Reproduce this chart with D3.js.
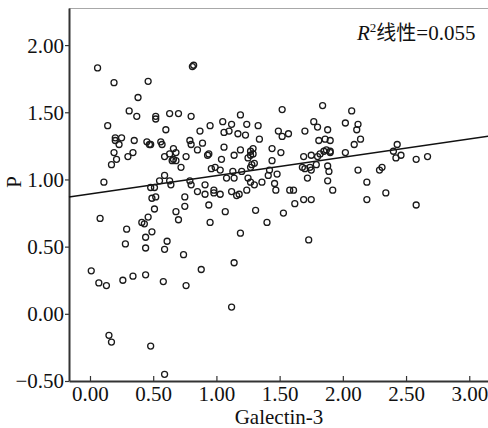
<!DOCTYPE html>
<html>
<head>
<meta charset="utf-8">
<script src="https://cdn.jsdelivr.net/npm/d3@7"></script>
<style>
  body { margin: 0; background: #fff; }
  svg { display: block; }
</style>
</head>
<body>
<div id="chart"></div>
<script>
// Galectin-3 values (x) and P values (y)
var galectin = [0.06,0.81,0.82,0.19,0.46,0.38,0.31,0.37,0.52,0.52,0.63,0.70,0.80,0.14,0.60,0.87,0.20,0.20,0.25,0.23,
    0.35,0.45,0.47,0.48,0.56,0.57,0.79,0.80,0.19,0.34,0.30,0.21,0.17,0.66,0.59,0.68,0.63,0.66,0.68,0.65,
    0.76,0.72,0.85,0.11,0.59,0.55,0.63,0.64,0.48,0.51,0.79,0.80,0.85,0.49,0.52,0.75,0.51,0.68,0.75,0.08,
    0.29,0.41,0.43,0.46,0.70,0.28,0.44,0.49,0.44,0.61,0.59,0.74,0.01,0.07,0.13,0.26,0.34,0.44,0.58,0.76,
    0.15,0.17,0.48,0.59,1.52,1.19,0.95,1.05,1.12,1.24,1.33,1.06,1.10,1.17,1.23,1.49,1.52,1.57,1.70,1.77,
    1.34,0.89,1.06,1.19,1.27,1.29,1.44,1.51,0.93,0.94,1.04,1.14,1.25,1.27,1.29,1.69,1.75,1.44,1.28,1.30,
    0.96,0.99,1.03,1.27,1.42,1.41,1.48,1.68,1.70,1.74,1.75,1.72,1.08,1.13,1.14,1.25,1.27,1.30,1.36,1.46,
    1.47,0.91,0.91,0.98,0.98,1.03,1.12,1.16,1.18,1.24,1.58,1.61,1.62,1.69,1.75,0.94,1.07,1.31,1.53,1.20,
    1.84,2.07,1.80,1.88,2.02,2.12,2.11,2.14,2.09,1.81,1.86,1.90,1.80,1.82,1.85,1.87,1.90,1.90,2.02,2.40,
    2.43,2.42,2.46,2.58,2.67,1.79,1.88,1.89,1.88,1.92,2.12,2.19,2.29,2.31,2.34,2.19,2.58,0.88,0.95,1.40,
    1.19,1.73,1.14,1.12];
var pValues = [1.83,1.84,1.85,1.72,1.73,1.61,1.51,1.47,1.47,1.45,1.49,1.49,1.47,1.40,1.37,1.36,1.31,1.29,1.31,1.26,
    1.29,1.28,1.26,1.26,1.28,1.26,1.29,1.26,1.20,1.20,1.17,1.15,1.11,1.23,1.17,1.20,1.19,1.15,1.14,1.14,
    1.17,1.09,1.22,0.98,1.03,0.99,0.99,0.96,0.94,0.94,0.99,0.96,0.91,0.86,0.87,0.87,0.78,0.76,0.80,0.71,
    0.63,0.68,0.67,0.72,0.70,0.52,0.57,0.61,0.49,0.54,0.48,0.44,0.32,0.23,0.21,0.25,0.28,0.29,0.24,0.21,
    -0.16,-0.21,-0.24,-0.45,1.52,1.48,1.40,1.43,1.41,1.41,1.40,1.35,1.36,1.34,1.33,1.36,1.32,1.34,1.36,1.43,
    1.30,1.27,1.24,1.22,1.21,1.23,1.23,1.20,1.18,1.19,1.15,1.18,1.16,1.18,1.19,1.17,1.18,1.14,1.11,1.12,
    1.08,1.09,1.07,1.09,1.07,1.03,1.04,1.09,1.08,1.09,1.07,1.01,1.01,1.06,1.01,1.01,0.98,0.96,0.98,0.97,
    0.92,0.96,0.89,0.92,0.90,0.89,0.91,0.88,0.89,0.92,0.92,0.92,0.82,0.85,0.85,0.81,0.76,0.77,0.75,1.06,
    1.55,1.51,1.39,1.37,1.42,1.41,1.37,1.30,1.26,1.29,1.30,1.29,1.17,1.19,1.21,1.22,1.21,1.20,1.20,1.21,
    1.26,1.16,1.18,1.15,1.17,1.11,1.10,1.06,0.99,0.92,1.07,0.98,1.07,1.09,0.90,0.85,0.81,0.33,0.68,0.68,
    0.60,0.55,0.38,0.05];

var xTicks = [0, 0.5, 1, 1.5, 2, 2.5, 3];
var yTicks = [-0.5, 0, 0.5, 1, 1.5, 2];

// linear fit line as drawn on the chart
var fitIntercept = 0.892;
var fitSlope = 0.1365;
var r2Value = "0.055";

var width = 488;
var height = 428;
var margin = {top: 8, right: -2, bottom: 47, left: 69};
var serif = "'Liberation Serif', 'Times New Roman', serif";

var data = galectin.map(function(d, i) { return {x: d, y: pValues[i]}; });

var svg = d3.select("#chart")
    .append("svg")
    .attr("width", width)
    .attr("height", height);

var x = d3.scaleLinear()
    .domain([-0.166, 3.164])
    .range([margin.left, width - margin.right]);

var y = d3.scaleLinear()
    .domain([-0.5, 2.276])
    .range([height - margin.bottom, margin.top]);

// top frame line
svg.append("line")
    .attr("x1", margin.left)
    .attr("x2", width)
    .attr("y1", margin.top + 0.5)
    .attr("y2", margin.top + 0.5)
    .attr("stroke", "#a8a8a8")
    .attr("stroke-width", 1);

// x axis, ticks pointing inward
var xAxis = svg.append("g")
    .attr("transform", "translate(0," + (height - margin.bottom) + ")")
    .call(d3.axisBottom(x).tickValues(xTicks).tickSizeInner(-5).tickSizeOuter(0)
        .tickFormat(d3.format(".2f")));

xAxis.select(".domain").attr("stroke", "#333").attr("stroke-width", 2);
xAxis.selectAll(".tick line").attr("stroke", "#333").attr("stroke-width", 1.2);
xAxis.selectAll(".tick text")
    .attr("y", 20)
    .attr("dy", 0)
    .style("font-family", serif)
    .style("font-size", "21px")
    .attr("fill", "#111");

// y axis, ticks pointing outward
var yAxis = svg.append("g")
    .attr("transform", "translate(" + margin.left + ",0)")
    .call(d3.axisLeft(y).tickValues(yTicks).tickSizeInner(4).tickSizeOuter(0)
        .tickFormat(function(d) { return d3.format(".2f")(d).replace("-", "\u2212"); }));

yAxis.select(".domain").attr("stroke", "#333").attr("stroke-width", 2);
yAxis.selectAll(".tick line").attr("stroke", "#333").attr("stroke-width", 1.2);
yAxis.selectAll(".tick text")
    .attr("x", -5)
    .attr("dy", "0.33em")
    .style("font-family", serif)
    .style("font-size", "21px")
    .attr("fill", "#111");

// fit line
svg.append("line")
    .attr("x1", x(x.domain()[0]))
    .attr("y1", y(fitIntercept + fitSlope * x.domain()[0]))
    .attr("x2", x(x.domain()[1]))
    .attr("y2", y(fitIntercept + fitSlope * x.domain()[1]))
    .attr("stroke", "#111")
    .attr("stroke-width", 1.4);

// points
svg.selectAll("circle.pt")
    .data(data)
    .enter()
    .append("circle")
    .attr("class", "pt")
    .attr("cx", function(d) { return x(d.x); })
    .attr("cy", function(d) { return y(d.y); })
    .attr("r", 3)
    .attr("fill", "none")
    .attr("stroke", "#1a1a1a")
    .attr("stroke-width", 1.3);

// axis titles
svg.append("text")
    .attr("x", 279)
    .attr("y", 424)
    .attr("text-anchor", "middle")
    .style("font-family", serif)
    .style("font-size", "21px")
    .attr("fill", "#111")
    .text("Galectin-3");

svg.append("text")
    .attr("transform", "translate(21,182) rotate(-90)")
    .attr("text-anchor", "middle")
    .style("font-family", serif)
    .style("font-size", "21px")
    .attr("fill", "#111")
    .text("P");

// R squared note
var note = svg.append("text")
    .attr("x", 357)
    .attr("y", 40)
    .style("font-family", serif)
    .style("font-size", "21px")
    .attr("fill", "#111");
note.append("tspan").style("font-style", "italic").text("R");
note.append("tspan").attr("dy", -8).style("font-size", "13px").text("2");
note.append("tspan").attr("dy", 8)
    .style("font-family", "'Noto Sans CJK SC', sans-serif")
    .style("font-size", "20px")
    .text("线性");
note.append("tspan").text("=" + r2Value);
</script>
</body>
</html>
